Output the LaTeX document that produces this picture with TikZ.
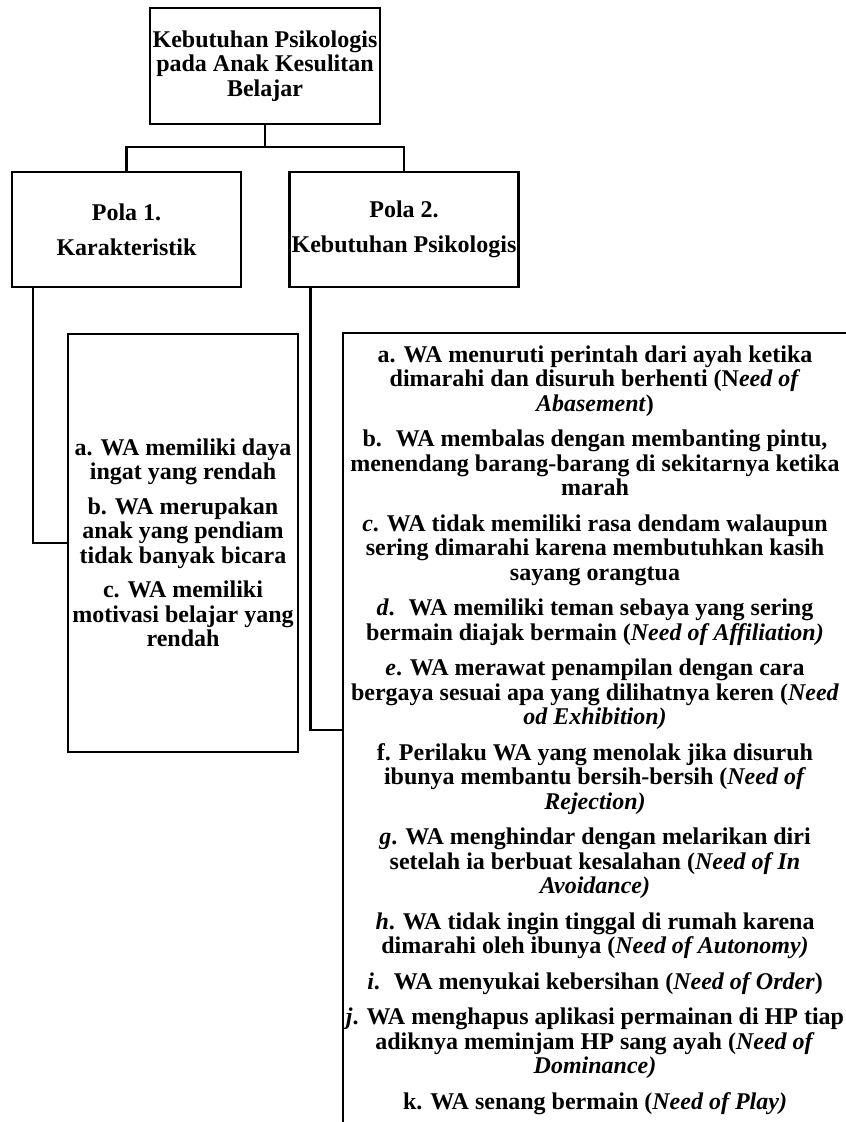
\documentclass[tikz,border=0pt]{standalone}
\usepackage{fontspec}
\setmainfont{Liberation Serif}
\usepackage{tikz}
\usetikzlibrary{positioning, calc}
\definecolor{Ink}{HTML}{000000}

\begin{document}
\begin{tikzpicture}[
  x=0.5pt, y=-0.5pt,
  font=\bfseries\fontsize{12}{12.25}\selectfont,
  box/.style={draw=Ink, line width=1.2pt, align=center, inner sep=0pt, fill=white, text=Ink},
  polabox/.style={box, minimum width=114.5pt, minimum height=57.5pt},
  link/.style={draw=Ink, line width=1.2pt}
]
\useasboundingbox (0,0) rectangle (845,1122);

\node[box, minimum width=115pt, minimum height=58pt] (root) at (265,66) {Kebutuhan Psikologis\\pada Anak Kesulitan\\Belajar};

\node[polabox] (pola1) at (126.5,229.5) {Pola 1.\\[5.25pt]Karakteristik};
\node[polabox] (pola2) at (404,229.5) {Pola 2.\\[5.25pt]Kebutuhan Psikologis};

\node[box, minimum width=115pt, minimum height=209pt] (ciri) at (183,543) {a. WA memiliki daya\\ingat yang rendah\\[5pt]
b. WA merupakan\\anak yang pendiam\\tidak banyak bicara\\[5pt]
c. WA memiliki\\motivasi belajar yang\\rendah};

\node[box, minimum width=252pt, minimum height=397pt] (butuh) at (595,730) {a. WA menuruti perintah dari ayah ketika\\dimarahi dan disuruh berhenti (N\textit{eed of}\\\textit{Abasement})\\[5.5pt]
b.~ WA membalas dengan membanting pintu,\\menendang barang-barang di sekitarnya ketika\\marah\\[5.5pt]
\textit{c}. WA tidak memiliki rasa dendam walaupun\\sering dimarahi karena membutuhkan kasih\\sayang orangtua\\[5.5pt]
\textit{d}.~ WA memiliki teman sebaya yang sering\\bermain diajak bermain (\textit{Need of Affiliation)}\\[5.5pt]
\textit{e}. WA merawat penampilan dengan cara\\bergaya sesuai apa yang dilihatnya keren (\textit{Need}\\\textit{od Exhibition)}\\[5.5pt]
f. Perilaku WA yang menolak jika disuruh\\ibunya membantu bersih-bersih (\textit{Need of}\\\textit{Rejection)}\\[5.5pt]
\textit{g}. WA menghindar dengan melarikan diri\\setelah ia berbuat kesalahan (\textit{Need of In}\\\textit{Avoidance)}\\[5.5pt]
\textit{h}. WA tidak ingin tinggal di rumah karena\\dimarahi oleh ibunya (\textit{Need of Autonomy)}\\[5.5pt]
\textit{i}.~ WA menyukai kebersihan (\textit{Need of Order})\\[5.5pt]
\textit{j}. WA menghapus aplikasi permainan di HP tiap\\adiknya meminjam HP sang ayah (\textit{Need of}\\\textit{Dominance)}\\[5.5pt]
k. WA senang bermain (\textit{Need of Play)}};

\coordinate (split) at (265,147);
\draw[link] (root.south) -- (split);
\draw[link] (pola1.north) |- (split) -| (pola2.north);
\draw[link] ([xshift=11pt]pola1.south west) |- (ciri.west);
\draw[link] ([xshift=11pt]pola2.south west) |- (butuh.west);
\end{tikzpicture}
\end{document}
